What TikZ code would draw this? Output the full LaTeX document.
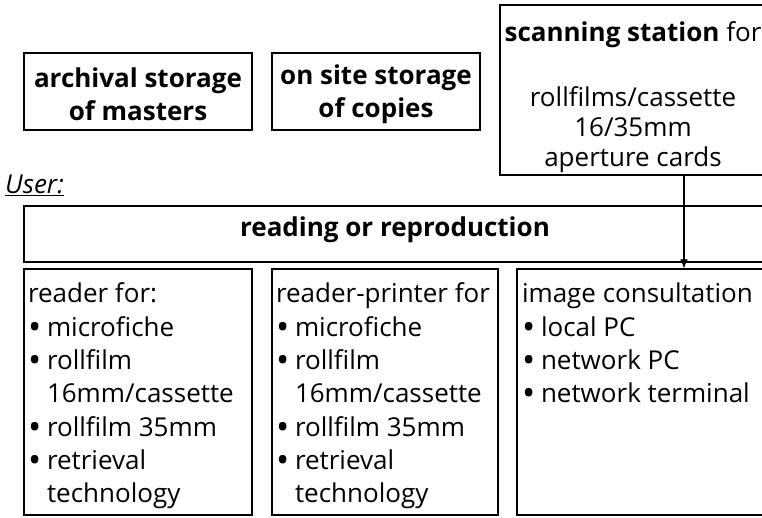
\documentclass[tikz,border=0pt]{standalone}
\usepackage{fontspec}
\setmainfont{Open Sans}
\usetikzlibrary{arrows.meta}

% list entries with a hanging indent after the bullet
\newcommand{\bul}[1]{\makebox[19pt][l]{\raisebox{-3pt}{\scalebox{1.35}{\textbullet}}}#1}
\newcommand{\cont}[1]{\hspace*{19pt}#1}
% top-aligned list block of fixed height
\newcommand{\listpar}[2]{\parbox[c][236pt][t]{#1}{\raggedright\fontsize{26}{33.3}\selectfont\vspace*{9pt}#2}}

\begin{document}
\begin{tikzpicture}[x=1pt,y=-1pt,
  box/.style={draw, line width=1.5pt, inner sep=0pt,
    font=\fontsize{26}{32}\selectfont},
  headbox/.style={box, font=\fontsize{26}{33}\selectfont\bfseries, align=center},
  listbox/.style={box, minimum height=246pt},
  link/.style={line width=1.1pt, -{Latex[length=9pt,width=8pt]}}
]
\useasboundingbox (0,0) rectangle (762,517);
\clip (0,0) rectangle (762,517);

% storage and scanning stations
\node[headbox, minimum width=228pt, minimum height=77pt] (arch) at (138,91.5)
  {\rule{0pt}{26pt}archival storage\\of masters};
\node[headbox, minimum width=208pt, minimum height=77pt] (site) at (376,91.5)
  {\rule{0pt}{26pt}on site storage\\of copies};
\node[box, minimum width=266pt, minimum height=170pt] (scan) at (633,90)
  {\parbox[c][170pt][t]{262pt}{\centering\fontsize{26}{30}\selectfont\vspace*{16.5pt}%
    \textbf{scanning station} for\\[35pt]rollfilms/cassette\\16/35mm\\aperture cards}};

% user side
\node[anchor=west, inner sep=0pt, font=\fontsize{26}{32}\selectfont\itshape] (user) at (5,185)
  {\underline{User:}};
\node[headbox, minimum width=742pt, minimum height=56pt] (read) at (395,234)
  {\rule[-14pt]{0pt}{1pt}reading or reproduction};

\node[listbox, minimum width=228pt] (rd) at (138,392)
  {\listpar{220pt}{reader for:\\ \bul{microfiche}\\ \bul{rollfilm}\\ \cont{16mm/cassette}\\
   \bul{rollfilm 35mm}\\ \bul{retrieval}\\ \cont{technology}}};
\node[listbox, minimum width=226pt] (rp) at (385,392)
  {\listpar{218pt}{reader-printer for\\ \bul{microfiche}\\ \bul{rollfilm}\\ \cont{16mm/cassette}\\
   \bul{rollfilm 35mm}\\ \bul{retrieval}\\ \cont{technology}}};
\node[listbox, minimum width=249pt] (img) at (641.5,392)
  {\listpar{239pt}{image consultation\\ \bul{local PC}\\ \bul{network PC}\\ \bul{network terminal}}};

% scanned images feed the consultation stations
\coordinate (ax) at (684,0);
\draw[link] (scan.south -| ax) -- (img.north -| ax);
\end{tikzpicture}
\end{document}
